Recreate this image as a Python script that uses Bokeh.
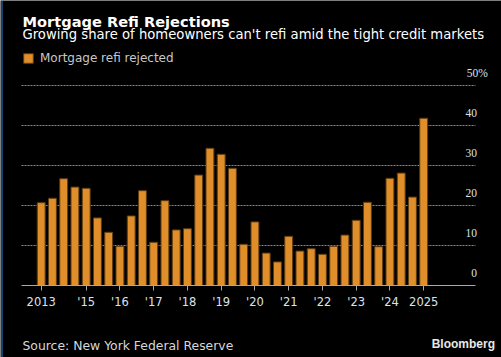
from bokeh.plotting import figure
from bokeh.models import (ColumnDataSource, FixedTicker, Label, LabelSet, Legend,
                          LegendItem, Range1d, BoxAnnotation)
from bokeh.embed import file_html
from bokeh.resources import INLINE

# ---- data (survey waves, every four months) ----
periods = ["Oct 2013", "Feb 2014", "Jun 2014", "Oct 2014", "Feb 2015", "Jun 2015",
           "Oct 2015", "Feb 2016", "Jun 2016", "Oct 2016", "Feb 2017", "Jun 2017",
           "Oct 2017", "Feb 2018", "Jun 2018", "Oct 2018", "Feb 2019", "Jun 2019",
           "Oct 2019", "Feb 2020", "Jun 2020", "Oct 2020", "Feb 2021", "Jun 2021",
           "Oct 2021", "Feb 2022", "Jun 2022", "Oct 2022", "Feb 2023", "Jun 2023",
           "Oct 2023", "Feb 2024", "Jun 2024", "Oct 2024", "Feb 2025"]
refi_rejected = [20.7, 21.8, 26.7, 24.6, 24.3, 16.9, 13.3, 9.8, 17.4, 23.7, 10.8, 21.2,
                 13.9, 14.2, 27.6, 34.3, 32.8, 29.3, 10.3, 15.9, 8.1, 5.9, 12.3, 8.6,
                 9.2, 7.8, 9.8, 12.6, 16.3, 20.8, 9.7, 26.8, 28.1, 22.1, 41.8]
x_tick_index = [0, 4, 7, 10, 13, 16, 19, 22, 25, 28, 31, 34]
x_tick_labels = ["2013", "'15", "'16", "'17", "'18", "'19", "'20", "'21", "'22",
                 "'23", "'24", "2025"]
y_ticks = [0, 10, 20, 30, 40, 50]
y_tick_labels = ["0", "10", "20", "30", "40", "50%"]

TITLE = "Mortgage Refi Rejections"
SUBTITLE = "Growing share of homeowners can't refi amid the tight credit markets"
SERIES = "Mortgage refi rejected"
SOURCE = "Source: New York Federal Reserve"

BAR = "#e08e2a"
BG = "#000000"
FONT = "DejaVu Sans"
TICK_COLOR = "#dde3ea"
TICK_SIZE = "11.5px"
PLOT_X = (-1.75, 38.6)      # extent of grid lines / axis line

idx = list(range(len(periods)))
src = ColumnDataSource(dict(x=idx, top=refi_rejected, period=periods))

# the frame covers the whole canvas; the x axis is pinned at y = 0
p = figure(width=501, height=357, output_backend="svg", toolbar_location=None,
           x_range=Range1d(-3.618, 40.916), y_range=Range1d(-18, 71.25),
           y_axis_location=None, min_border=0,
           background_fill_color=BG, border_fill_color=BG, outline_line_color=None)

# horizontal grid lines (dotted), limited to the plot extent
gsrc = ColumnDataSource(dict(y=y_ticks[1:], x0=[PLOT_X[0]] * (len(y_ticks) - 1),
                             x1=[PLOT_X[1]] * (len(y_ticks) - 1)))
p.segment(x0="x0", x1="x1", y0="y", y1="y", source=gsrc, line_color="#8a8a8a",
          line_dash="2 1", line_width=1, level="underlay")
p.xgrid.visible = False
p.ygrid.visible = False

r = p.vbar(x="x", top="top", width=0.7, source=src, fill_color=BAR,
           line_color="#5e3c12", line_width=1)

# x axis
ax = p.xaxis[0]
ax.fixed_location = 0
ax.bounds = PLOT_X
ax.ticker = FixedTicker(ticks=x_tick_index)
ax.major_label_overrides = {i: l for i, l in zip(x_tick_index, x_tick_labels)}
ax.axis_line_color = "#a8a8a8"
ax.major_tick_line_color = "#a8a8a8"
ax.major_tick_out = 5
ax.major_tick_in = 0
ax.minor_tick_line_color = None
ax.major_label_standoff = 4
ax.major_label_text_font = FONT
ax.major_label_text_font_size = TICK_SIZE
ax.major_label_text_color = TICK_COLOR

# y tick labels (inside, above the grid lines, numbers right aligned; "%" hangs past)
pct_w = 11.0
ysrc = ColumnDataSource(dict(
    x=[PLOT_X[1]] * len(y_ticks), y=y_ticks, t=y_tick_labels,
    xo=[1.5 + (pct_w if t.endswith("%") else 0) for t in y_tick_labels]))
p.add_layout(LabelSet(x="x", y="y", text="t", source=ysrc, text_align="right",
                      text_baseline="alphabetic", x_offset="xo", y_offset=9,
                      text_font=FONT, text_font_size=TICK_SIZE, text_color=TICK_COLOR))

# legend
leg = Legend(items=[LegendItem(label=SERIES, renderers=[r])], location=(22, 292.5),
             glyph_width=12, glyph_height=12, label_standoff=6, padding=0, margin=0,
             spacing=0, background_fill_alpha=0, border_line_alpha=0,
             label_text_font=FONT, label_text_font_size="12px",
             label_text_color="#c8c8c8")
p.add_layout(leg, "center")

# titles & footer (screen units from the bottom-left corner)
p.add_layout(Label(x=22, y=336, x_units="screen", y_units="screen", text=TITLE,
                   text_font=FONT, text_font_style="bold", text_font_size="14.6px",
                   text_color="#ffffff", text_baseline="alphabetic"))
p.add_layout(Label(x=22, y=323, x_units="screen", y_units="screen", text=SUBTITLE,
                   text_font=FONT, text_font_size="13.2px",
                   text_color="#ffffff", text_baseline="alphabetic"))
p.add_layout(Label(x=22, y=12, x_units="screen", y_units="screen", text=SOURCE,
                   text_font=FONT, text_font_size="12.4px",
                   text_color="#d4d8dc", text_baseline="alphabetic"))
p.add_layout(Label(x=494.5, y=13.7, x_units="screen", y_units="screen", text="Bloomberg",
                   text_font="Liberation Sans", text_font_style="bold", text_font_size="12px",
                   text_color="#e8e8e8", text_baseline="alphabetic", text_align="right"))

# thin blue left edge
p.add_layout(BoxAnnotation(left=1, right=2, bottom=0, top=357,
                           left_units="screen", right_units="screen",
                           bottom_units="screen", top_units="screen",
                           fill_color="#2f7fd8", fill_alpha=1, line_alpha=0))

open("out.html", "w").write(file_html(p, INLINE))
